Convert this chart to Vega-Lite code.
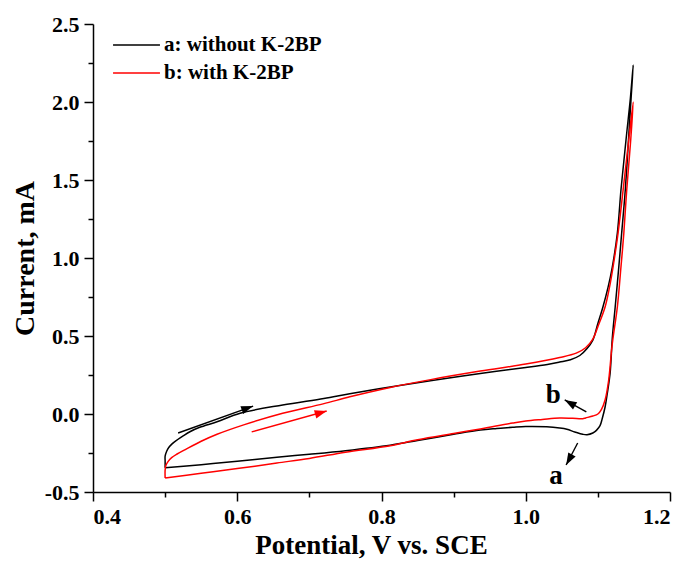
{
  "$schema": "https://vega.github.io/schema/vega-lite/v6.json",
  "width": 577,
  "height": 468,
  "autosize": "none",
  "padding": {"left": 93, "top": 24, "right": 16, "bottom": 70},
  "config": {
    "view": {"stroke": null},
    "axis": {
      "grid": false,
      "domainColor": "#000000",
      "domainWidth": 1.5,
      "tickColor": "#000000",
      "tickWidth": 1.5,
      "labelFont": "Liberation Serif",
      "labelFontWeight": "bold",
      "labelFontSize": 22,
      "labelColor": "#000000",
      "titleFont": "Liberation Serif",
      "titleFontWeight": "bold",
      "titleFontSize": 27,
      "titleColor": "#000000"
    },
    "legend": {
      "orient": "none",
      "legendX": 19,
      "legendY": 10,
      "symbolType": "stroke",
      "symbolSize": 2200,
      "symbolStrokeWidth": 1.5,
      "labelFont": "Liberation Serif",
      "labelFontWeight": "bold",
      "labelFontSize": 21,
      "labelColor": "#000000",
      "labelOffset": 3,
      "clipHeight": 22,
      "rowPadding": 6
    }
  },
  "datasets": {
    "curves": [
      {"curve": "a: without K-2BP", "i": 0, "potential": 0.5, "current": -0.345},
      {"curve": "a: without K-2BP", "i": 1, "potential": 0.5, "current": -0.3},
      {"curve": "a: without K-2BP", "i": 2, "potential": 0.5, "current": -0.27},
      {"curve": "a: without K-2BP", "i": 3, "potential": 0.502, "current": -0.24},
      {"curve": "a: without K-2BP", "i": 4, "potential": 0.505, "current": -0.215},
      {"curve": "a: without K-2BP", "i": 5, "potential": 0.51, "current": -0.19},
      {"curve": "a: without K-2BP", "i": 6, "potential": 0.517, "current": -0.165},
      {"curve": "a: without K-2BP", "i": 7, "potential": 0.525, "current": -0.14},
      {"curve": "a: without K-2BP", "i": 8, "potential": 0.535, "current": -0.112},
      {"curve": "a: without K-2BP", "i": 9, "potential": 0.548, "current": -0.085},
      {"curve": "a: without K-2BP", "i": 10, "potential": 0.572, "current": -0.05},
      {"curve": "a: without K-2BP", "i": 11, "potential": 0.604, "current": 0.005},
      {"curve": "a: without K-2BP", "i": 12, "potential": 0.663, "current": 0.058},
      {"curve": "a: without K-2BP", "i": 13, "potential": 0.72, "current": 0.1},
      {"curve": "a: without K-2BP", "i": 14, "potential": 0.756, "current": 0.13},
      {"curve": "a: without K-2BP", "i": 15, "potential": 0.812, "current": 0.173},
      {"curve": "a: without K-2BP", "i": 16, "potential": 0.87, "current": 0.215},
      {"curve": "a: without K-2BP", "i": 17, "potential": 0.937, "current": 0.26},
      {"curve": "a: without K-2BP", "i": 18, "potential": 1.0, "current": 0.298},
      {"curve": "a: without K-2BP", "i": 19, "potential": 1.03, "current": 0.318},
      {"curve": "a: without K-2BP", "i": 20, "potential": 1.047, "current": 0.333},
      {"curve": "a: without K-2BP", "i": 21, "potential": 1.062, "current": 0.348},
      {"curve": "a: without K-2BP", "i": 22, "potential": 1.075, "current": 0.375},
      {"curve": "a: without K-2BP", "i": 23, "potential": 1.085, "current": 0.42},
      {"curve": "a: without K-2BP", "i": 24, "potential": 1.093, "current": 0.474},
      {"curve": "a: without K-2BP", "i": 25, "potential": 1.1, "current": 0.58},
      {"curve": "a: without K-2BP", "i": 26, "potential": 1.107, "current": 0.686},
      {"curve": "a: without K-2BP", "i": 27, "potential": 1.114, "current": 0.81},
      {"curve": "a: without K-2BP", "i": 28, "potential": 1.12, "current": 0.942},
      {"curve": "a: without K-2BP", "i": 29, "potential": 1.127, "current": 1.16},
      {"curve": "a: without K-2BP", "i": 30, "potential": 1.132, "current": 1.436},
      {"curve": "a: without K-2BP", "i": 31, "potential": 1.136, "current": 1.62},
      {"curve": "a: without K-2BP", "i": 32, "potential": 1.14, "current": 1.801},
      {"curve": "a: without K-2BP", "i": 33, "potential": 1.145, "current": 2.02},
      {"curve": "a: without K-2BP", "i": 34, "potential": 1.149, "current": 2.237},
      {"curve": "a: without K-2BP", "i": 35, "potential": 1.146, "current": 2.02},
      {"curve": "a: without K-2BP", "i": 36, "potential": 1.143, "current": 1.8},
      {"curve": "a: without K-2BP", "i": 37, "potential": 1.138, "current": 1.436},
      {"curve": "a: without K-2BP", "i": 38, "potential": 1.133, "current": 1.16},
      {"curve": "a: without K-2BP", "i": 39, "potential": 1.129, "current": 0.942},
      {"curve": "a: without K-2BP", "i": 40, "potential": 1.124, "current": 0.686},
      {"curve": "a: without K-2BP", "i": 41, "potential": 1.12, "current": 0.487},
      {"curve": "a: without K-2BP", "i": 42, "potential": 1.117, "current": 0.263},
      {"curve": "a: without K-2BP", "i": 43, "potential": 1.113, "current": 0.13},
      {"curve": "a: without K-2BP", "i": 44, "potential": 1.11, "current": 0.045},
      {"curve": "a: without K-2BP", "i": 45, "potential": 1.106, "current": -0.03},
      {"curve": "a: without K-2BP", "i": 46, "potential": 1.103, "current": -0.075},
      {"curve": "a: without K-2BP", "i": 47, "potential": 1.098, "current": -0.105},
      {"curve": "a: without K-2BP", "i": 48, "potential": 1.093, "current": -0.122},
      {"curve": "a: without K-2BP", "i": 49, "potential": 1.085, "current": -0.133},
      {"curve": "a: without K-2BP", "i": 50, "potential": 1.079, "current": -0.13},
      {"curve": "a: without K-2BP", "i": 51, "potential": 1.068, "current": -0.115},
      {"curve": "a: without K-2BP", "i": 52, "potential": 1.057, "current": -0.098},
      {"curve": "a: without K-2BP", "i": 53, "potential": 1.047, "current": -0.09},
      {"curve": "a: without K-2BP", "i": 54, "potential": 1.029, "current": -0.082},
      {"curve": "a: without K-2BP", "i": 55, "potential": 1.0, "current": -0.08},
      {"curve": "a: without K-2BP", "i": 56, "potential": 0.982, "current": -0.085},
      {"curve": "a: without K-2BP", "i": 57, "potential": 0.96, "current": -0.093},
      {"curve": "a: without K-2BP", "i": 58, "potential": 0.937, "current": -0.103},
      {"curve": "a: without K-2BP", "i": 59, "potential": 0.9, "current": -0.13},
      {"curve": "a: without K-2BP", "i": 60, "potential": 0.85, "current": -0.17},
      {"curve": "a: without K-2BP", "i": 61, "potential": 0.812, "current": -0.2},
      {"curve": "a: without K-2BP", "i": 62, "potential": 0.75, "current": -0.235},
      {"curve": "a: without K-2BP", "i": 63, "potential": 0.7, "current": -0.258},
      {"curve": "a: without K-2BP", "i": 64, "potential": 0.655, "current": -0.277},
      {"curve": "a: without K-2BP", "i": 65, "potential": 0.6, "current": -0.303},
      {"curve": "a: without K-2BP", "i": 66, "potential": 0.55, "current": -0.325},
      {"curve": "a: without K-2BP", "i": 67, "potential": 0.5, "current": -0.345},
      {"curve": "b: with K-2BP", "i": 0, "potential": 0.5, "current": -0.41},
      {"curve": "b: with K-2BP", "i": 1, "potential": 0.5, "current": -0.36},
      {"curve": "b: with K-2BP", "i": 2, "potential": 0.501, "current": -0.33},
      {"curve": "b: with K-2BP", "i": 3, "potential": 0.504, "current": -0.305},
      {"curve": "b: with K-2BP", "i": 4, "potential": 0.509, "current": -0.28},
      {"curve": "b: with K-2BP", "i": 5, "potential": 0.516, "current": -0.258},
      {"curve": "b: with K-2BP", "i": 6, "potential": 0.528, "current": -0.228},
      {"curve": "b: with K-2BP", "i": 7, "potential": 0.55, "current": -0.175},
      {"curve": "b: with K-2BP", "i": 8, "potential": 0.572, "current": -0.13},
      {"curve": "b: with K-2BP", "i": 9, "potential": 0.61, "current": -0.068},
      {"curve": "b: with K-2BP", "i": 10, "potential": 0.663, "current": 0.005},
      {"curve": "b: with K-2BP", "i": 11, "potential": 0.719, "current": 0.065},
      {"curve": "b: with K-2BP", "i": 12, "potential": 0.756, "current": 0.11},
      {"curve": "b: with K-2BP", "i": 13, "potential": 0.812, "current": 0.17},
      {"curve": "b: with K-2BP", "i": 14, "potential": 0.87, "current": 0.222},
      {"curve": "b: with K-2BP", "i": 15, "potential": 0.937, "current": 0.275},
      {"curve": "b: with K-2BP", "i": 16, "potential": 1.0, "current": 0.32},
      {"curve": "b: with K-2BP", "i": 17, "potential": 1.047, "current": 0.362},
      {"curve": "b: with K-2BP", "i": 18, "potential": 1.07, "current": 0.39},
      {"curve": "b: with K-2BP", "i": 19, "potential": 1.083, "current": 0.425},
      {"curve": "b: with K-2BP", "i": 20, "potential": 1.093, "current": 0.48},
      {"curve": "b: with K-2BP", "i": 21, "potential": 1.1, "current": 0.56},
      {"curve": "b: with K-2BP", "i": 22, "potential": 1.11, "current": 0.686},
      {"curve": "b: with K-2BP", "i": 23, "potential": 1.116, "current": 0.81},
      {"curve": "b: with K-2BP", "i": 24, "potential": 1.121, "current": 0.942},
      {"curve": "b: with K-2BP", "i": 25, "potential": 1.128, "current": 1.16},
      {"curve": "b: with K-2BP", "i": 26, "potential": 1.135, "current": 1.436},
      {"curve": "b: with K-2BP", "i": 27, "potential": 1.142, "current": 1.724},
      {"curve": "b: with K-2BP", "i": 28, "potential": 1.149, "current": 2.0},
      {"curve": "b: with K-2BP", "i": 29, "potential": 1.145, "current": 1.724},
      {"curve": "b: with K-2BP", "i": 30, "potential": 1.14, "current": 1.436},
      {"curve": "b: with K-2BP", "i": 31, "potential": 1.136, "current": 1.16},
      {"curve": "b: with K-2BP", "i": 32, "potential": 1.132, "current": 0.942},
      {"curve": "b: with K-2BP", "i": 33, "potential": 1.127, "current": 0.686},
      {"curve": "b: with K-2BP", "i": 34, "potential": 1.121, "current": 0.487},
      {"curve": "b: with K-2BP", "i": 35, "potential": 1.119, "current": 0.41},
      {"curve": "b: with K-2BP", "i": 36, "potential": 1.115, "current": 0.218},
      {"curve": "b: with K-2BP", "i": 37, "potential": 1.11, "current": 0.09},
      {"curve": "b: with K-2BP", "i": 38, "potential": 1.105, "current": 0.03},
      {"curve": "b: with K-2BP", "i": 39, "potential": 1.1, "current": 0.0},
      {"curve": "b: with K-2BP", "i": 40, "potential": 1.093, "current": -0.013},
      {"curve": "b: with K-2BP", "i": 41, "potential": 1.083, "current": -0.025},
      {"curve": "b: with K-2BP", "i": 42, "potential": 1.079, "current": -0.03},
      {"curve": "b: with K-2BP", "i": 43, "potential": 1.065, "current": -0.028},
      {"curve": "b: with K-2BP", "i": 44, "potential": 1.047, "current": -0.026},
      {"curve": "b: with K-2BP", "i": 45, "potential": 1.023, "current": -0.035},
      {"curve": "b: with K-2BP", "i": 46, "potential": 1.0, "current": -0.045},
      {"curve": "b: with K-2BP", "i": 47, "potential": 0.982, "current": -0.058},
      {"curve": "b: with K-2BP", "i": 48, "potential": 0.937, "current": -0.096},
      {"curve": "b: with K-2BP", "i": 49, "potential": 0.9, "current": -0.125},
      {"curve": "b: with K-2BP", "i": 50, "potential": 0.85, "current": -0.165},
      {"curve": "b: with K-2BP", "i": 51, "potential": 0.812, "current": -0.203},
      {"curve": "b: with K-2BP", "i": 52, "potential": 0.75, "current": -0.245},
      {"curve": "b: with K-2BP", "i": 53, "potential": 0.7, "current": -0.285},
      {"curve": "b: with K-2BP", "i": 54, "potential": 0.655, "current": -0.314},
      {"curve": "b: with K-2BP", "i": 55, "potential": 0.6, "current": -0.35},
      {"curve": "b: with K-2BP", "i": 56, "potential": 0.55, "current": -0.38},
      {"curve": "b: with K-2BP", "i": 57, "potential": 0.5, "current": -0.41}
    ],
    "arrows": [
      {"arrow": "forward_a", "x": 0.518, "y": -0.122, "x2": 0.622, "y2": 0.051},
      {"arrow": "forward_b", "x": 0.62, "y": -0.115, "x2": 0.724, "y2": 0.019},
      {"arrow": "label_b", "x": 1.084, "y": 0.013, "x2": 1.054, "y2": 0.09},
      {"arrow": "label_a", "x": 1.072, "y": -0.186, "x2": 1.056, "y2": -0.327}
    ],
    "labels": [
      {"label": "a", "x": 1.042, "y": -0.449},
      {"label": "b", "x": 1.038, "y": 0.07}
    ]
  },
  "layer": [
    {
      "data": {"name": "curves"},
      "mark": {"type": "line", "strokeWidth": 1.5, "interpolate": "catmull-rom"},
      "encoding": {
        "x": {
          "field": "potential", "type": "quantitative",
          "scale": {"domain": [0.4, 1.2], "nice": false, "zero": false},
          "axis": {"orient": "bottom", "values": [0.4, 0.6, 0.8, 1.0, 1.2], "format": ".1f", "tickSize": 9, "labelPadding": 5, "title": "Potential, V vs. SCE", "titlePadding": 5, "titleX": 278}
        },
        "y": {
          "field": "current", "type": "quantitative",
          "scale": {"domain": [-0.5, 2.5], "nice": false, "zero": false},
          "axis": {"orient": "left", "values": [-0.5, 0.0, 0.5, 1.0, 1.5, 2.0, 2.5], "format": ".1f", "labelExpr": "replace(datum.label, '\u2212', '-')", "tickSize": 9, "labelPadding": 5, "title": "Current, mA", "titlePadding": 5, "titleFontSize": 28}
        },
        "color": {
          "field": "curve", "type": "nominal",
          "scale": {"domain": ["a: without K-2BP", "b: with K-2BP"], "range": ["#000000", "#ff0000"]},
          "legend": {"title": null}
        },
        "order": {"field": "i", "type": "quantitative"}
      }
    },
    {
      "data": {"name": "labels"},
      "mark": {"type": "text", "font": "Liberation Serif", "fontWeight": "bold", "fontSize": 27, "align": "center", "baseline": "alphabetic", "color": "#000000"},
      "encoding": {
        "x": {"field": "x", "type": "quantitative", "axis": {"orient": "bottom", "values": [0.5, 0.7, 0.9, 1.1], "tickSize": 5, "labels": false, "domain": false, "title": null}},
        "y": {"field": "y", "type": "quantitative", "axis": {"orient": "left", "values": [-0.25, 0.25, 0.75, 1.25, 1.75, 2.25], "tickSize": 5, "labels": false, "domain": false, "title": null}},
        "text": {"field": "label", "type": "nominal"}
      }
    },
    {
      "data": {"name": "arrows"},
      "transform": [{"filter": "datum.arrow !== 'forward_b'"}],
      "mark": {"type": "rule", "strokeWidth": 1.4, "color": "#000000"},
      "encoding": {
        "x": {"field": "x", "type": "quantitative", "axis": null},
        "y": {"field": "y", "type": "quantitative", "axis": null},
        "x2": {"field": "x2"},
        "y2": {"field": "y2"}
      }
    },
    {
      "data": {"name": "arrows"},
      "transform": [{"filter": "datum.arrow === 'forward_b'"}],
      "mark": {"type": "rule", "strokeWidth": 1.4, "color": "#ff0000"},
      "encoding": {
        "x": {"field": "x", "type": "quantitative", "axis": null},
        "y": {"field": "y", "type": "quantitative", "axis": null},
        "x2": {"field": "x2"},
        "y2": {"field": "y2"}
      }
    },
    {
      "data": {"name": "arrows"},
      "transform": [{"filter": "datum.arrow === 'forward_a'"}],
      "mark": {"type": "point", "shape": "M0,0L-1,-0.35L-1,0.35Z", "filled": true, "size": 576, "angle": 340, "color": "#000000", "opacity": 1, "strokeWidth": 0},
      "encoding": {
        "x": {"field": "x2", "type": "quantitative", "axis": null},
        "y": {"field": "y2", "type": "quantitative", "axis": null}
      }
    },
    {
      "data": {"name": "arrows"},
      "transform": [{"filter": "datum.arrow === 'forward_b'"}],
      "mark": {"type": "point", "shape": "M0,0L-1,-0.35L-1,0.35Z", "filled": true, "size": 576, "angle": 344, "color": "#ff0000", "opacity": 1, "strokeWidth": 0},
      "encoding": {
        "x": {"field": "x2", "type": "quantitative", "axis": null},
        "y": {"field": "y2", "type": "quantitative", "axis": null}
      }
    },
    {
      "data": {"name": "arrows"},
      "transform": [{"filter": "datum.arrow === 'label_b'"}],
      "mark": {"type": "point", "shape": "M0,0L-1,-0.35L-1,0.35Z", "filled": true, "size": 576, "angle": 210, "color": "#000000", "opacity": 1, "strokeWidth": 0},
      "encoding": {
        "x": {"field": "x2", "type": "quantitative", "axis": null},
        "y": {"field": "y2", "type": "quantitative", "axis": null}
      }
    },
    {
      "data": {"name": "arrows"},
      "transform": [{"filter": "datum.arrow === 'label_a'"}],
      "mark": {"type": "point", "shape": "M0,0L-1,-0.35L-1,0.35Z", "filled": true, "size": 576, "angle": 119, "color": "#000000", "opacity": 1, "strokeWidth": 0},
      "encoding": {
        "x": {"field": "x2", "type": "quantitative", "axis": null},
        "y": {"field": "y2", "type": "quantitative", "axis": null}
      }
    }
  ],
  "resolve": {"axis": {"x": "independent", "y": "independent"}}
}
